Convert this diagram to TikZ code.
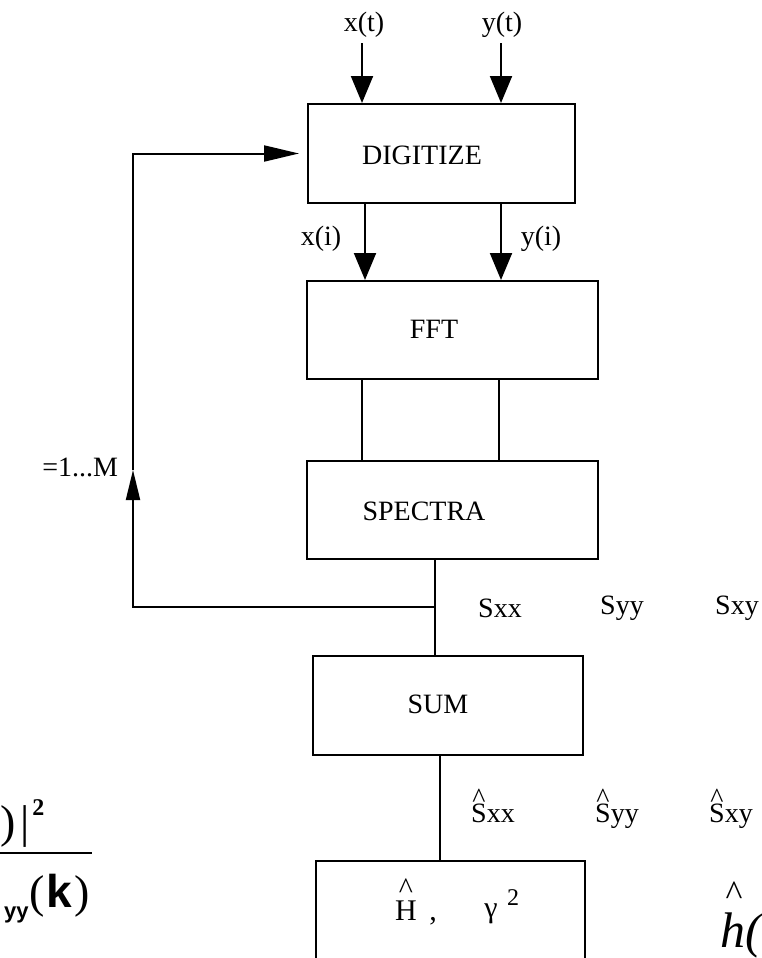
\documentclass[tikz,border=0pt]{standalone}
\usepackage{fontspec}
\setmainfont{Liberation Serif}
\newfontfamily\arialfam{Liberation Sans}
\usetikzlibrary{arrows.meta}
\newcommand\myhat[2][0.52em]{\setbox0\hbox{#2}\rlap{\hbox to \wd0{\hss\raisebox{#1}{\textasciicircum}\hss}}\box0}
\begin{document}
\begin{tikzpicture}[x=0.5pt,y=-0.5pt,
  box/.style={draw, line width=1pt, inner sep=0pt},
  txt/.style={font=\fontsize{14}{16}\selectfont, inner sep=0pt},
  ln/.style={line width=1pt},
  arr/.style={line width=1pt, -{Triangle[width=11pt,length=13.5pt]}},
  arrup/.style={line width=1pt, -{Triangle[width=7pt,length=15pt]}},
  arrrt/.style={line width=1pt, -{Triangle[width=8pt,length=17.5pt]}}]
\clip (0,0) rectangle (761,958);
\useasboundingbox (0,0) rectangle (761,958);

% boxes
\node[box, minimum width=133.5pt, minimum height=49.5pt] (dig) at (441.5,153.5) {};
\node[box, minimum width=145.5pt, minimum height=49pt] (fft) at (452.5,330) {};
\node[box, minimum width=145.5pt, minimum height=49pt] (spec) at (452.5,510) {};
\node[box, minimum width=135pt, minimum height=49.5pt] (sum) at (448,705.5) {};
\node[box, minimum width=134.5pt, minimum height=100pt] (res) at (450.5,961) {};

% box texts
\node[txt] (digt) at (422,155) {DIGITIZE};
\node[txt] (fftt) at (434,329) {FFT};
\node[txt] (spect) at (424,511) {SPECTRA};
\node[txt] (sumt) at (438,704) {SUM};

% inputs
\coordinate (xt) at (362,43);
\coordinate (yt) at (501,43);
\draw[arr] (xt) -- (xt |- dig.north);
\draw[arr] (yt) -- (yt |- dig.north);
\node[txt] (xtl) at (364,25) {x(t)};
\node[txt] (ytl) at (502,25) {y(t)};

% digitize -> fft
\coordinate (xi) at (365,0);
\coordinate (yi) at (501,0);
\draw[arr] (xi |- dig.south) -- (xi |- fft.north);
\draw[arr] (yi |- dig.south) -- (yi |- fft.north);
\node[txt] (xil) at (321,239) {x(i)};
\node[txt] (yil) at (541,239) {y(i)};

% fft -> spectra
\coordinate (fa) at (362,0);
\coordinate (fb) at (499,0);
\draw[ln] (fa |- fft.south) -- (fa |- spec.north);
\draw[ln] (fb |- fft.south) -- (fb |- spec.north);

% spectra -> sum, feedback
\coordinate (sa) at (435,0);
\draw[ln] (sa |- spec.south) -- (sa |- sum.north);
\coordinate (fb0) at (435,607);
\coordinate (fb1) at (133,607);
\coordinate (fbtip) at (133,470);
\coordinate (fb2) at (133,153.5);
\draw[arrup] (fb0) -- (fb1) -- (fbtip);
\draw[arrrt, shorten >=4pt] (fbtip) -- (fb2) -- (dig.west);
\node[txt, anchor=west] (ml) at (42,467) {=1...M};

\node[txt] (sxx) at (500,608) {Sxx};
\node[txt] (syy) at (622,608) {Syy};
\node[txt] (sxy) at (737,608) {Sxy};

% sum -> result
\coordinate (ra) at (440,0);
\draw[ln] (ra |- sum.south) -- (ra |- res.north);

\node[txt, anchor=base] (hsxx) at (493,822) {\myhat{S}xx};
\node[txt, anchor=base] (hsyy) at (617,822) {\myhat{S}yy};
\node[txt, anchor=base] (hsxy) at (731,822) {\myhat{S}xy};

% result box content
\node[font=\fontsize{15}{17}\selectfont, inner sep=0pt, anchor=base] (hh) at (406,920) {\myhat[0.72em]{H}};
\node[font=\fontsize{15}{17}\selectfont, inner sep=0pt, anchor=base] (hc) at (433,920) {,};
\node[font=\fontsize{15}{17}\selectfont, inner sep=0pt, anchor=base] (hg) at (491,917) {γ};
\node[font=\fontsize{12}{14}\selectfont, inner sep=0pt, anchor=base] (hg2) at (513,905) {2};

% right cut-off h
\node[font=\fontsize{25}{28}\selectfont\itshape, inner sep=0pt, anchor=base west] (hr) at (720,947) {h(};
\node[font=\fontsize{18}{20}\selectfont, inner sep=0pt] (hrhat) at (734,894) {\textasciicircum};

% left cut-off formula
\node[font=\fontsize{23}{26}\selectfont, inner sep=0pt, anchor=base east] (lp) at (16,837) {)};
\node[font=\fontsize{23}{26}\selectfont, inner sep=0pt, anchor=base] (lb) at (25.5,837) {|};
\node[font=\fontsize{12}{14}\selectfont\bfseries, inner sep=0pt, anchor=base west] (l2) at (32,815) {2};
\coordinate (bar0) at (0,853);
\coordinate (bar1) at (92,853);
\draw[ln] (bar0) -- (bar1);
\node[font=\fontsize{11}{13}\selectfont\arialfam\bfseries, inner sep=0pt, anchor=base east] (lyy) at (29,918) {yy};
\node[font=\fontsize{23}{26}\selectfont, inner sep=0pt, anchor=base west] (lk) at (29,907) {(\kern1pt{\arialfam\bfseries k}\kern1pt)};
\end{tikzpicture}
\end{document}
